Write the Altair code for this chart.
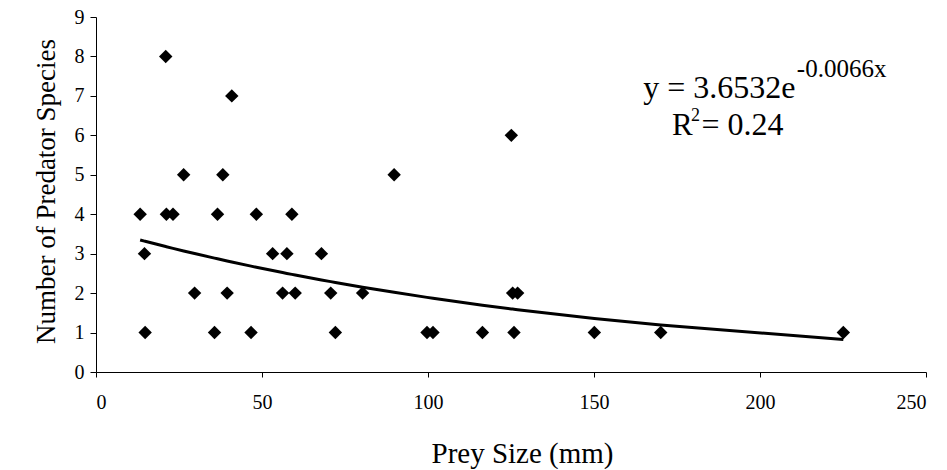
import altair as alt
import pandas as pd

# Data
prey_size = [13.3, 14.6, 14.8, 21.0, 21.2, 23.2, 26.4, 29.7, 35.7, 36.6,
             38.2, 39.5, 40.9, 46.7, 48.3, 53.2, 56.2, 57.5, 59.0, 60.0,
             67.9, 70.7, 72.1, 80.3, 89.8, 99.7, 101.5, 116.4, 125.1, 125.5,
             125.9, 127.0, 150.1, 170.1, 225.1]
predators = [4, 3, 1, 8, 4, 4, 5, 2, 1, 4,
             5, 2, 7, 1, 4, 3, 2, 3, 4, 2,
             3, 2, 1, 2, 5, 1, 1, 1, 6, 2,
             1, 2, 1, 1, 1]

# Exponential trendline coefficients as printed on the chart
fit_a = 3.6532
fit_b = -0.0066
r_squared = 0.24

x_ticks = [0, 50, 100, 150, 200, 250]
y_ticks = [0, 1, 2, 3, 4, 5, 6, 7, 8, 9]
x_title = "Prey Size (mm)"
y_title = "Number of Predator Species"

df = pd.DataFrame({"prey": prey_size, "pred": predators})

FONT = "Liberation Serif"

x_scale = alt.Scale(domain=[0, 250], nice=False, zero=True)
y_scale = alt.Scale(domain=[0, 9], nice=False, zero=True)

x_axis = alt.Axis(values=x_ticks, grid=False, labelOverlap=False,
                  domainColor="black", tickColor="black", tickSize=5,
                  labelPadding=15, labelFontSize=20, labelFont=FONT,
                  labelColor="black", format="d",
                  titleFont=FONT, titleFontSize=29, titleFontWeight="normal",
                  titleColor="black", titleX=426, titleY=90,
                  titleAlign="center", titleBaseline="alphabetic")
y_axis = alt.Axis(values=y_ticks, grid=False, labelOverlap=False,
                  domainColor="black", tickColor="black", tickSize=6,
                  labelPadding=6, labelFontSize=20, labelFont=FONT,
                  labelColor="black", format="d",
                  titleFont=FONT, titleFontSize=27, titleFontWeight="normal",
                  titleColor="black", titleX=-42, titleY=174,
                  titleAlign="center", titleBaseline="alphabetic",
                  titleAngle=270)

base = alt.Chart(df)

points = base.mark_point(shape="diamond", filled=True, color="black",
                         opacity=1, size=180).encode(
    x=alt.X("prey:Q", scale=x_scale, axis=x_axis, title=x_title),
    y=alt.Y("pred:Q", scale=y_scale, axis=y_axis, title=y_title),
)

trend = base.transform_calculate(
    fit=f"{fit_a} * exp({fit_b} * datum.prey)"
).mark_line(color="black", strokeWidth=3).encode(
    x=alt.X("prey:Q", scale=x_scale, axis=x_axis, title=x_title),
    y=alt.Y("fit:Q", scale=y_scale, axis=y_axis, title=y_title),
    order="prey:Q",
)

def label(text, x, y, size):
    return alt.Chart().mark_text(text=text, font=FONT, fontSize=size,
                                 align="left", baseline="alphabetic",
                                 color="black").encode(
        x=alt.datum(x, scale=x_scale, axis=x_axis, title=x_title),
        y=alt.datum(y, scale=y_scale, axis=y_axis, title=y_title))

eq_main = label(f"y = {fit_a}e", 164.8, 6.955, 32)
eq_sup = label(f"{fit_b}x", 211.1, 7.49, 25)
r_main = label("R", 173.5, 6.01, 31)
r_sup = label("2", 179.2, 6.37, 18)
r_val = label(f"= {r_squared}", 182.4, 6.01, 32)

chart = alt.layer(points, trend, eq_main, eq_sup, r_main, r_sup, r_val).properties(
    width=830, height=355,
    autosize=alt.AutoSizeParams(type="none"),
    padding={"left": 88, "top": 9, "right": 13, "bottom": 97},
    background="white",
).configure_view(stroke=None).configure_axis(
    labelFont=FONT, titleFont=FONT
)

chart.save("out.html", embed_options={"renderer": "svg", "actions": False})
